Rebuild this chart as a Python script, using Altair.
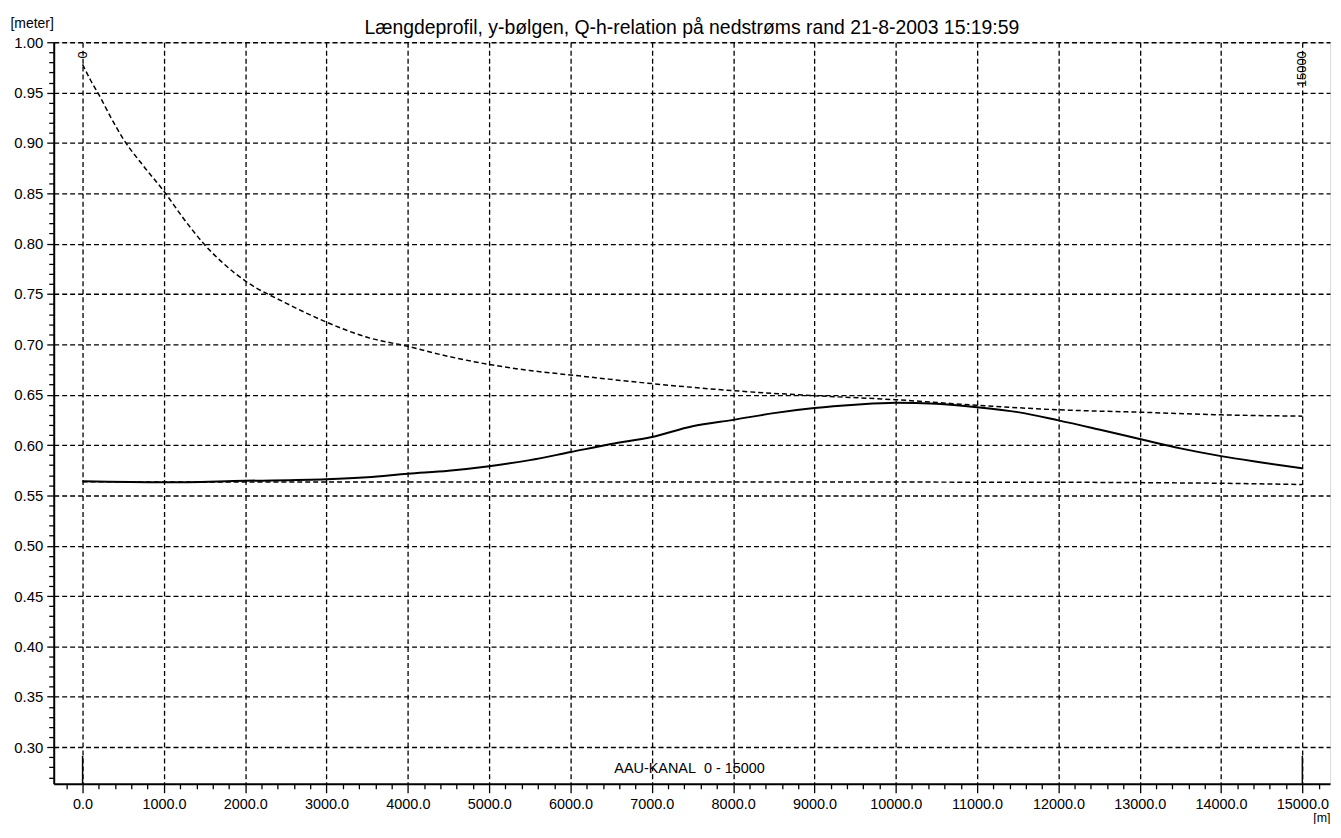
import altair as alt
import pandas as pd

FONT = "Liberation Sans"

TITLE = "Længdeprofil, y-bølgen, Q-h-relation på nedstrøms rand 21-8-2003 15:19:59"

# upper dashed profile
upper_x = [0, 100, 200, 350, 500, 750, 1000, 1250, 1500, 1750, 2000, 2500, 3000, 3500, 4000,
           4500, 5000, 5500, 6000, 7000, 8000, 9000, 10000, 11000, 12000, 13000, 14000, 15000]
upper_y = [0.978, 0.962, 0.948, 0.925, 0.904, 0.877, 0.852, 0.824, 0.799, 0.779, 0.763, 0.741,
           0.722, 0.707, 0.698, 0.688, 0.680, 0.674, 0.6696, 0.661, 0.654, 0.649, 0.645, 0.6395,
           0.635, 0.6326, 0.630, 0.6287]

# solid profile
solid_x = [0, 1000, 2000, 3000, 3500, 4000, 4500, 5000, 5500, 6000, 6500, 7000, 7500, 8000,
           8500, 9000, 9500, 10000, 10500, 11000, 11500, 12000, 12500, 13000, 13500, 14000,
           14500, 15000]
solid_y = [0.564, 0.563, 0.5645, 0.566, 0.568, 0.5715, 0.5745, 0.579, 0.585, 0.593, 0.601,
           0.608, 0.6187, 0.625, 0.6317, 0.6367, 0.640, 0.642, 0.641, 0.6376, 0.6327, 0.6245,
           0.6154, 0.606, 0.5967, 0.589, 0.5827, 0.5768]

# lower dashed profile
lower_x = [0, 2000, 4000, 6000, 8000, 10000, 12000, 13000, 14000, 15000]
lower_y = [0.5635, 0.5632, 0.5632, 0.5634, 0.5633, 0.5632, 0.5631, 0.5627, 0.5621, 0.5608]

# branch end markers
marker_x = [0, 15000]
marker_label = ["0", "15000"]
marker_label_y = [0.9911, 0.9911]
marker_y0 = [0.2636, 0.2636]
marker_y1 = [0.2912, 0.2912]

branch_name = ["AAU-KANAL\u00a0 0 - 15000"]
branch_x = [7464]
branch_y = [0.2784]

X_DOMAIN = [-355, 15340]
Y_DOMAIN = [0.2636, 1.0]

x_ticks = list(range(-200, 15201, 200))
y_ticks = [round(0.27 + 0.01 * i, 2) for i in range(74)]

x_axis = alt.Axis(
    values=x_ticks,
    labelExpr="datum.value % 1000 === 0 ? format(datum.value, '.1f') : ''",
    labelOverlap=False, labelFont=FONT, labelFontSize=14.5, labelColor="black",
    labelPadding=5,
    tickSize={"condition": {"test": "datum.value % 1000 !== 0", "value": 5}, "value": 9},
    tickColor="black", tickWidth=1.3,
    grid=True, gridColor="black", gridDash=[5, 3], gridWidth=1.3,
    gridOpacity={"condition": {"test": "datum.value % 1000 === 0 && datum.value >= 0", "value": 1}, "value": 0},
    domainColor="black", domainWidth=2,
    title="[m]", titleFont=FONT, titleFontSize=12.5, titleFontWeight="normal", titleColor="black",
    titleX=1284, titleY=37.5, titleAlign="right", titleBaseline="alphabetic",
)

y_axis = alt.Axis(
    values=y_ticks,
    labelExpr="round(datum.value * 100) % 5 === 0 ? format(datum.value, '.2f') : ''",
    labelOverlap=False, labelFont=FONT, labelFontSize=15, labelColor="black",
    labelPadding=4,
    tickSize={"condition": {"test": "round(datum.value * 100) % 5 !== 0", "value": 5}, "value": 7},
    tickColor="black", tickWidth=1.3,
    grid=True, gridColor="black", gridDash=[5, 3], gridWidth=1.3,
    gridOpacity={"condition": {"test": "round(datum.value * 100) % 5 === 0", "value": 1}, "value": 0},
    domainColor="black", domainWidth=2,
    title="[meter]", titleFont=FONT, titleFontSize=14, titleFontWeight="normal", titleColor="black",
    titleAngle=0, titleX=-44, titleY=-19, titleAlign="left", titleBaseline="middle",
)

xs = alt.Scale(domain=X_DOMAIN, nice=False, zero=False)
ys = alt.Scale(domain=Y_DOMAIN, nice=False, zero=False)


def X():
    return alt.X("x:Q", scale=xs, axis=x_axis)


def Y():
    return alt.Y("y:Q", scale=ys, axis=y_axis)


upper_df = pd.DataFrame({"x": upper_x, "y": upper_y})
solid_df = pd.DataFrame({"x": solid_x, "y": solid_y})
lower_df = pd.DataFrame({"x": lower_x, "y": lower_y})
marker_df = pd.DataFrame({"x": marker_x, "y": marker_y0, "y2": marker_y1,
                          "label": marker_label, "ly": marker_label_y})
branch_df = pd.DataFrame({"x": branch_x, "y": branch_y, "label": branch_name})

upper = alt.Chart(upper_df).mark_line(color="black", strokeWidth=1.5, strokeDash=[5, 3],
                                      interpolate="monotone").encode(x=X(), y=Y())
lower = alt.Chart(lower_df).mark_line(color="black", strokeWidth=1.5, strokeDash=[5, 3]).encode(x=X(), y=Y())
solid = alt.Chart(solid_df).mark_line(color="black", strokeWidth=2,
                                      interpolate="monotone").encode(x=X(), y=Y())
rules = alt.Chart(marker_df).mark_rule(color="black", strokeWidth=1.5).encode(
    x=X(), y=Y(), y2=alt.Y2("y2:Q"))
marker_text = alt.Chart(marker_df).mark_text(
    font=FONT, fontSize=13, color="black", angle=270, align="right", baseline="middle"
).encode(x=X(), y=alt.Y("ly:Q", scale=ys, axis=y_axis), text="label:N")
branch_text = alt.Chart(branch_df).mark_text(
    font=FONT, fontSize=14.5, color="black", align="center", baseline="middle"
).encode(x=X(), y=Y(), text="label:N")

chart = alt.layer(upper, lower, solid, rules, marker_text, branch_text).properties(
    width=1284, height=746,
    title=alt.TitleParams(TITLE, font=FONT, fontSize=19.5, fontWeight="normal", color="black",
                          anchor="middle", offset=4, dy=26),
    autosize=alt.AutoSizeParams(type="none"),
    padding={"left": 46, "top": 32, "right": 3, "bottom": 38},
).configure_view(stroke="black", strokeWidth=1.2).configure(background="white")

chart.save("out.html", embed_options={"renderer": "svg", "actions": False})
